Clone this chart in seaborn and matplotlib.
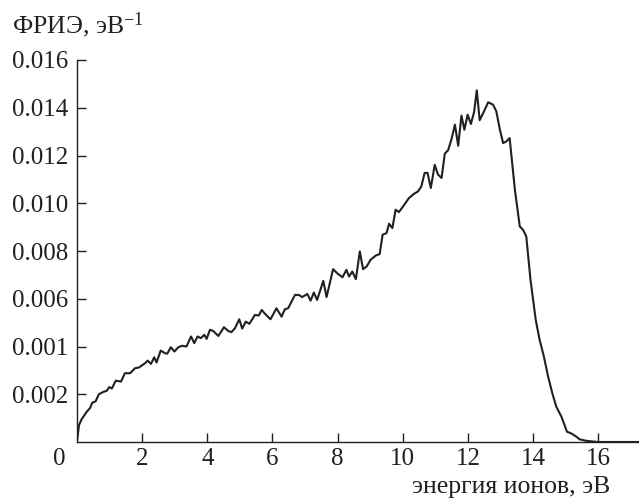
import numpy as np
import pandas as pd
import matplotlib
matplotlib.use('Agg')
import matplotlib.pyplot as plt
import seaborn as sns

# ion energy distribution function
energy = [0.00, 0.06, 0.14, 0.30, 0.40, 0.47, 0.57, 0.67, 0.81, 0.91,
          0.99, 1.07, 1.19, 1.35, 1.47, 1.63, 1.78, 1.90, 2.09, 2.17,
          2.27, 2.37, 2.44, 2.57, 2.70, 2.77, 2.88, 2.99, 3.11, 3.23,
          3.36, 3.50, 3.60, 3.70, 3.80, 3.91, 3.98, 4.08, 4.18, 4.34,
          4.51, 4.64, 4.74, 4.85, 4.98, 5.07, 5.18, 5.29, 5.46, 5.58,
          5.67, 5.77, 5.94, 6.12, 6.28, 6.38, 6.48, 6.69, 6.81, 6.91,
          7.07, 7.17, 7.27, 7.37, 7.56, 7.66, 7.86, 8.00, 8.15, 8.27,
          8.35, 8.45, 8.56, 8.68, 8.78, 8.89, 9.01, 9.17, 9.29, 9.38,
          9.50, 9.58, 9.68, 9.78, 9.88, 10.01, 10.19, 10.34, 10.47, 10.57,
          10.67, 10.76, 10.86, 10.98, 11.08, 11.19, 11.29, 11.39, 11.49, 11.60,
          11.70, 11.80, 11.89, 11.99, 12.09, 12.19, 12.27, 12.36, 12.48, 12.62,
          12.77, 12.87, 12.98, 13.08, 13.18, 13.28, 13.44, 13.59, 13.69, 13.79,
          13.92, 14.08, 14.20, 14.33, 14.46, 14.59, 14.71, 14.87, 15.04, 15.17,
          15.33, 15.43, 15.63, 16.00, 17.25]
firf = [0.0, 0.00070, 0.00095, 0.00127, 0.00142, 0.00165, 0.00170, 0.00200, 0.00210, 0.00214,
        0.00230, 0.00224, 0.00257, 0.00253, 0.00288, 0.00288, 0.00309, 0.00312, 0.00330, 0.00341,
        0.00327, 0.00355, 0.00333, 0.00383, 0.00372, 0.00370, 0.00397, 0.00379, 0.00397, 0.00403,
        0.00400, 0.00442, 0.00414, 0.00442, 0.00435, 0.00449, 0.00432, 0.00470, 0.00465, 0.00444,
        0.00481, 0.00465, 0.00460, 0.00477, 0.00514, 0.00475, 0.00504, 0.00495, 0.00532, 0.00530,
        0.00553, 0.00537, 0.00514, 0.00560, 0.00525, 0.00556, 0.00560, 0.00616, 0.00616, 0.00607,
        0.00620, 0.00592, 0.00626, 0.00595, 0.00675, 0.00607, 0.00724, 0.00705, 0.00690, 0.00721,
        0.00693, 0.00714, 0.00682, 0.00798, 0.00724, 0.00735, 0.00763, 0.00781, 0.00787, 0.00868,
        0.00875, 0.00914, 0.00896, 0.00973, 0.00963, 0.00987, 0.01022, 0.01039, 0.01050, 0.01071,
        0.01127, 0.01127, 0.01064, 0.01161, 0.01120, 0.01106, 0.01208, 0.01222, 0.01266, 0.01329,
        0.01241, 0.01367, 0.01308, 0.01371, 0.01332, 0.01383, 0.01473, 0.01348, 0.01381, 0.01423,
        0.01413, 0.01385, 0.01308, 0.01252, 0.01259, 0.01273, 0.01057, 0.00903, 0.00889, 0.00861,
        0.00679, 0.00512, 0.00428, 0.00358, 0.00274, 0.00204, 0.00148, 0.00106, 0.00043, 0.00036,
        0.00022, 0.00011, 0.00005, 0.0, 0.0]

xticks = [2, 4, 6, 8, 10, 12, 14, 16]
yticks = [0.002, 0.004, 0.006, 0.008, 0.010, 0.012, 0.014, 0.016]
# the labels as printed in the source (0.004 appears as "0.001")
ytick_labels = ['0.002', '0.001', '0.006', '0.008', '0.010', '0.012', '0.014', '0.016']

df = pd.DataFrame({'energy': energy, 'firf': firf})

sns.set_style('ticks')
plt.rcParams['font.family'] = ['Liberation Serif', 'DejaVu Serif']
plt.rcParams['mathtext.fontset'] = 'custom'
plt.rcParams['mathtext.rm'] = 'Liberation Serif'
plt.rcParams['mathtext.it'] = 'Liberation Serif:italic'

ink = '#231f20'
tick_fs = 18
label_fs = 18.5

fig = plt.figure(figsize=(6.39, 4.99), dpi=100)
ax = fig.add_axes([77 / 639, 1 - 442 / 499, 1 - 77 / 639, (442 - 60) / 499])

sns.lineplot(data=df, x='energy', y='firf', ax=ax, color=ink, linewidth=1.5)

ax.set_xlim(0, 17.25)
ax.set_ylim(0, 0.016)
ax.set_xticks(xticks)
ax.set_xticklabels([str(t) for t in xticks])
ax.set_yticks(yticks)
ax.set_yticklabels(ytick_labels)
ax.tick_params(direction='in', length=6.5, width=1, color=ink,
               labelsize=tick_fs, labelcolor=ink)
ax.tick_params(axis='y', pad=6)
ax.tick_params(axis='x', pad=4)
ax.set_xlabel('')
ax.set_ylabel('')
for side in ['top', 'right']:
    ax.spines[side].set_visible(False)
for side in ['left', 'bottom']:
    ax.spines[side].set_linewidth(1)
    ax.spines[side].set_color(ink)

# shared origin label
ax.annotate('0', xy=(0, 0), xycoords='axes fraction', xytext=(-12.5, -4),
            textcoords='offset points', ha='center', va='top',
            fontsize=tick_fs, color=ink)

fig.text(12 / 639, 1 - 33 / 499, r'ФРИЭ, эВ$^{-1}$', fontsize=label_fs,
         color=ink, ha='left', va='baseline')
fig.text(610 / 639, 1 - 493 / 499, 'энергия ионов, эВ', fontsize=label_fs,
         color=ink, ha='right', va='baseline')

plt.savefig('out.png', dpi=100)
